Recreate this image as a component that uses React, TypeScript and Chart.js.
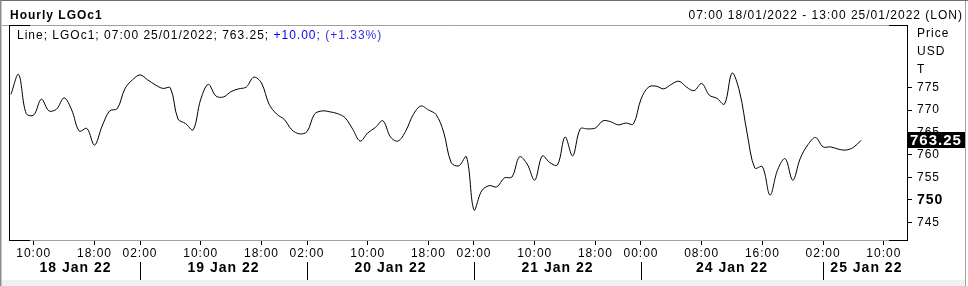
import React, { useEffect, useRef } from 'react';
import { Chart, registerables } from 'chart.js';

Chart.register(...registerables);

// ---------- data ----------
const TITLE = 'Hourly LGOc1';
const RANGE_TEXT = '07:00 18/01/2022 - 13:00 25/01/2022 (LON)';
const LEGEND_BLACK = 'Line; LGOc1; 07:00 25/01/2022; 763.25; ';
const LEGEND_BLUE1 = '+10.00; ';
const LEGEND_BLUE2 = '(+1.33%)';
const LAST_PRICE = 763.25;
const LAST_PRICE_LABEL = '763.25';

// hourly bars, index 0 = 07:00 18 Jan 2022, last = 07:00 25 Jan 2022
const prices = [
  773.5, 777.9, 769.2, 768.9, 772.4, 769.8, 770.2, 772.7, 770.0, 765.3,
  765.9, 762.2, 766.4, 769.8, 770.3, 774.7, 776.7, 777.8, 776.7, 775.6,
  774.8, 774.9, 768.0, 767.0, 765.6, 772.4, 775.7, 773.1, 772.9, 774.1,
  774.7, 775.1, 777.3, 776.0, 771.3, 769.1, 767.9, 765.6, 764.7, 765.2,
  769.1, 769.8, 769.6, 769.2, 768.3, 765.8, 763.1, 764.9, 766.1, 767.6,
  764.0, 763.1, 765.3, 769.0, 770.9, 770.0, 769.0, 765.1, 758.3, 757.6,
  759.6, 747.8, 752.0, 753.2, 752.9, 754.9, 755.1, 759.6, 758.0, 754.4,
  759.8, 758.3, 757.8, 764.0, 759.8, 765.8, 765.8, 766.0, 767.6, 767.4,
  766.7, 767.1, 766.9, 772.4, 775.1, 775.3, 774.7, 775.7, 776.4, 775.1,
  774.3, 775.9, 773.3, 772.6, 771.3, 778.2, 774.0, 764.7, 757.1, 757.4,
  751.1, 756.7, 759.2, 754.4, 759.3, 762.3, 763.9, 761.8, 761.8, 761.3,
  761.1, 761.7, 763.25,
];

const timeTickIdx = [3, 11, 17, 25, 33, 39, 47, 55, 61, 69, 77, 83, 91, 99, 107, 115];
const timeTickLabels = [
  '10:00', '18:00', '02:00', '10:00', '18:00', '02:00', '10:00', '18:00',
  '02:00', '10:00', '18:00', '00:00', '08:00', '16:00', '02:00', '10:00',
];
const daySeparatorIdx = [17, 39, 61, 83, 107];
const dateCenters = [8.5, 28, 50, 72, 95, 112.7];
const dateLabels = ['18 Jan 22', '19 Jan 22', '20 Jan 22', '21 Jan 22', '24 Jan 22', '25 Jan 22'];
const yTicks = [745, 750, 755, 760, 765, 770, 775];
const yMajorTick = 750;
const yUnitLabels = ['Price', 'USD', 'T'];

const X_MIN = -0.2635;
const X_MAX = 118.05;
const Y_MIN = 741.11;
const Y_MAX = 788.89;

// ---------- drawing ----------
const W = 968;
const H = 286;
const FONT = '"Liberation Sans", Arial, sans-serif';

const framePlugin = {
  id: 'frame',
  beforeDraw(chart: any) {
    const ctx = chart.ctx;
    ctx.save();
    ctx.fillStyle = '#ffffff';
    ctx.fillRect(0, 0, W, H);
    ctx.restore();
    ctx.letterSpacing = '1px';
  },
  afterDraw(chart: any) {
    const ctx = chart.ctx;
    const a = chart.chartArea;
    const xs = chart.scales.x;
    const ys = chart.scales.y;
    ctx.save();
    ctx.letterSpacing = '1px';

    // outer window border
    ctx.fillStyle = '#6e6e6e';
    ctx.fillRect(0, 0, W, 1);
    ctx.fillStyle = '#8a8a8a';
    ctx.fillRect(0, 0, 1, H);
    ctx.fillStyle = '#c8c8c8';
    ctx.fillRect(1, 1, 1, H);
    ctx.fillStyle = '#f0f0f0';
    ctx.fillRect(2, 280, W - 4, H - 280);
    ctx.fillStyle = '#a0a0a0';
    ctx.fillRect(965, 1, 1, H);

    // header separator
    ctx.strokeStyle = '#a0a0a0';
    ctx.lineWidth = 1;
    ctx.beginPath();
    ctx.moveTo(2, a.top + 0.5);
    ctx.lineTo(a.right, a.top + 0.5);
    ctx.stroke();

    // plot frame: left line + corner stubs
    ctx.strokeStyle = '#000';
    ctx.beginPath();
    ctx.moveTo(a.left + 0.5, a.top);
    ctx.lineTo(a.left + 0.5, a.bottom + 1);
    ctx.moveTo(a.left, a.top + 0.5);
    ctx.lineTo(a.left + 21, a.top + 0.5);
    ctx.moveTo(a.right - 18, a.top + 0.5);
    ctx.lineTo(a.right + 1, a.top + 0.5);
    ctx.moveTo(a.left, a.bottom + 0.5);
    ctx.lineTo(a.left + 21, a.bottom + 0.5);
    ctx.moveTo(a.right - 18, a.bottom + 0.5);
    ctx.lineTo(a.right + 1, a.bottom + 0.5);
    ctx.stroke();

    // day separators
    ctx.beginPath();
    daySeparatorIdx.forEach((i) => {
      const px = Math.round(xs.getPixelForValue(i)) + 0.5;
      ctx.moveTo(px, 262);
      ctx.lineTo(px, 280);
    });
    ctx.stroke();

    // title + range
    ctx.fillStyle = '#000';
    ctx.textBaseline = 'alphabetic';
    ctx.font = `bold 12px ${FONT}`;
    ctx.textAlign = 'left';
    ctx.fillText(TITLE, 10, 19);
    ctx.font = `12px ${FONT}`;
    ctx.textAlign = 'right';
    ctx.fillText(RANGE_TEXT, 963, 19);

    // legend line
    ctx.textAlign = 'left';
    let lx = 17;
    ctx.fillStyle = '#000';
    ctx.fillText(LEGEND_BLACK, lx, 39);
    lx += ctx.measureText(LEGEND_BLACK).width;
    ctx.fillStyle = '#0000ff';
    ctx.fillText(LEGEND_BLUE1, lx, 39);
    lx += ctx.measureText(LEGEND_BLUE1).width;
    ctx.fillStyle = '#3a2fe0';
    ctx.fillText(LEGEND_BLUE2, lx, 39);

    // unit labels on price axis
    ctx.fillStyle = '#000';
    yUnitLabels.forEach((t, k) => {
      ctx.fillText(t, a.right + 10, 37 + k * 18);
    });

    // last price box
    const py = ys.getPixelForValue(LAST_PRICE);
    ctx.fillStyle = '#000';
    ctx.fillRect(a.right + 1, Math.round(py) - 8, 57, 16);
    ctx.fillStyle = '#fff';
    ctx.font = `bold 15px ${FONT}`;
    ctx.textBaseline = 'middle';
    ctx.fillText(LAST_PRICE_LABEL, a.right + 3, Math.round(py) + 0.5);

    ctx.restore();
  },
};

export default function App() {
  const ref = useRef<HTMLCanvasElement>(null);

  useEffect(() => {
    document.body.style.margin = '0';
    const canvas = ref.current!;
    const chart = new Chart(canvas, {
      type: 'line',
      data: {
        datasets: [
          {
            data: prices.map((v, i) => ({ x: i, y: v })),
            borderColor: '#000',
            borderWidth: 1,
            pointRadius: 0,
            tension: 0.35,
            fill: false,
          },
        ],
      },
      options: {
        animation: false,
        responsive: false,
        devicePixelRatio: 1,
        events: [],
        layout: { padding: { top: 25, left: 9, right: 0, bottom: 6 } },
        plugins: { legend: { display: false }, tooltip: { enabled: false } },
        scales: {
          x: {
            type: 'linear',
            position: 'bottom',
            weight: 1,
            min: X_MIN,
            max: X_MAX,
            afterBuildTicks: (s: any) => {
              s.ticks = timeTickIdx.map((v) => ({ value: v }));
            },
            afterFit: (s: any) => {
              s.height = 20;
            },
            grid: { drawOnChartArea: false, drawTicks: true, tickLength: 5, color: '#000' },
            border: { display: true, color: '#a0a0a0' },
            ticks: {
              autoSkip: false,
              maxRotation: 0,
              minRotation: 0,
              padding: 1,
              color: '#000',
              font: { family: FONT, size: 12 },
              callback: (_v: any, idx: number) => timeTickLabels[idx],
            },
          },
          x2: {
            type: 'linear',
            position: 'bottom',
            weight: 2,
            min: X_MIN,
            max: X_MAX,
            afterBuildTicks: (s: any) => {
              s.ticks = dateCenters.map((v) => ({ value: v }));
            },
            afterFit: (s: any) => {
              s.height = 20;
            },
            grid: { display: false, drawTicks: false },
            border: { display: false },
            ticks: {
              autoSkip: false,
              maxRotation: 0,
              minRotation: 0,
              padding: 0,
              color: '#000',
              font: { family: FONT, size: 14, weight: 'bold' },
              callback: (_v: any, idx: number) => dateLabels[idx],
            },
          },
          y: {
            type: 'linear',
            position: 'right',
            min: Y_MIN,
            max: Y_MAX,
            afterBuildTicks: (s: any) => {
              s.ticks = yTicks.map((v) => ({ value: v }));
            },
            afterFit: (s: any) => {
              s.width = 61;
            },
            grid: { drawOnChartArea: false, drawTicks: true, tickLength: 5, color: '#000' },
            border: { display: true, color: '#000' },
            ticks: {
              padding: 5,
              color: '#000',
              font: (c: any) =>
                c.tick && c.tick.value === yMajorTick
                  ? { family: FONT, size: 14, weight: 'bold' }
                  : { family: FONT, size: 12 },
              callback: (v: any) => String(v),
            },
          },
        },
      },
      plugins: [framePlugin],
    } as any);
    return () => chart.destroy();
  }, []);

  return (
    <canvas
      ref={ref}
      width={W}
      height={H}
      style={{ display: 'block', width: W, height: H }}
    />
  );
}
